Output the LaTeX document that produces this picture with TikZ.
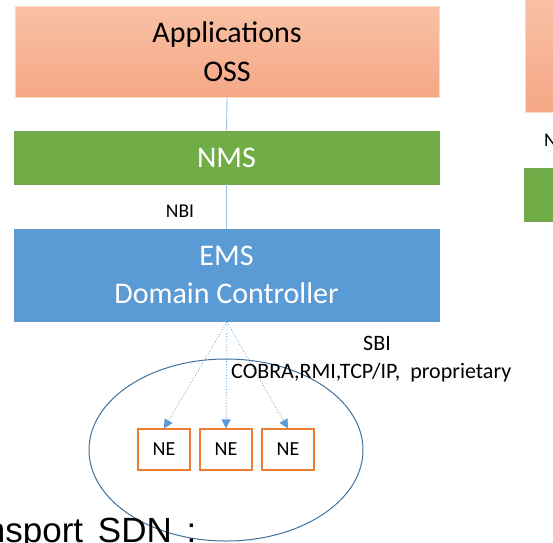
\documentclass[tikz,border=0pt]{standalone}
\usepackage{fontspec}
\setmainfont{Carlito}
\newfontfamily\arialfont{Liberation Sans}
\usetikzlibrary{arrows.meta}
\definecolor{ossTop}{HTML}{F8C1A6}
\definecolor{ossBot}{HTML}{F5A785}
\definecolor{nmsGreen}{HTML}{70AD47}
\definecolor{emsBlue}{HTML}{5B9BD5}
\definecolor{neOrange}{HTML}{ED7D31}
\definecolor{linkBlue}{HTML}{9DC3E6}
\definecolor{ringBlue}{HTML}{41719C}
\begin{document}
\begin{tikzpicture}[x=1pt,y=-1pt,
  layer/.style={draw=none,minimum height=#1,inner sep=0pt,align=center,font=\fontsize{30}{38.5}\selectfont},
  ossbox/.style={layer=91pt,top color=ossTop,bottom color=ossBot,draw=ossTop!60!white,line width=0.8pt},
  nmsbox/.style={layer=53pt,fill=nmsGreen,draw=nmsGreen!80!gray,text=white,line width=0.6pt},
  emsbox/.style={layer=92pt,fill=emsBlue,draw=emsBlue!85!gray,text=white,line width=0.6pt},
  nebox/.style={draw=neOrange,line width=1.2pt,fill=white,minimum width=52pt,minimum height=41pt,inner sep=0pt,font=\fontsize{20}{24}\selectfont},
  link/.style={draw=linkBlue,line width=0.9pt},
  sbilink/.style={draw=emsBlue,line width=0.8pt,dotted,-{Triangle[length=9pt,width=9pt]}},
  lbl/.style={inner sep=0pt,font=\fontsize{22}{26}\selectfont},
  small/.style={inner sep=0pt,font=\fontsize{19.5}{23}\selectfont}]
\useasboundingbox (0,0) rectangle (553,542);
\begin{scope}
\clip (0,0) rectangle (553,542);

% main stack
\node[ossbox,minimum width=424pt] (oss) at (227,51.5) {Applications\\OSS};
\node[nmsbox,minimum width=425pt] (nms) at (226.5,157.5) {NMS};
\node[emsbox,minimum width=425pt] (ems) at (226.5,275) {EMS\\Domain Controller};

\draw[link] (oss.south) -- (nms.north);
\draw[link] (nms.south) -- (ems.north);
\node[small] (nbi) at (180,211) {NBI};

% second stack, partly visible at the right edge
\node[ossbox,minimum width=60pt,minimum height=116pt,anchor=north west] (oss2) at (525,-4) {};
\node[nmsbox,minimum width=60pt,minimum height=53pt,anchor=north west] (nms2) at (524,168) {};
\node[small,anchor=west] (nbi2) at (544,140) {N};

% network domain
\draw[ringBlue,line width=1pt] (226,450) ellipse [x radius=137,y radius=91];
\node[nebox] (ne1) at (164,449.5) {NE};
\node[nebox] (ne2) at (226,449.5) {NE};
\node[nebox] (ne3) at (288,449.5) {NE};

\coordinate (sbiorigin) at (227,322);
\draw[sbilink] (sbiorigin) -- (ne1.north);
\draw[sbilink] (sbiorigin) -- (ne2.north);
\draw[sbilink] (sbiorigin) -- (ne3.north);

\node[lbl] (sbi) at (377,343) {SBI};
\node[lbl,anchor=west] (proto) at (231,373) {COBRA,RMI,TCP/IP,\ \ proprietary};

% slide caption cut at the edges
\node[anchor=base east,inner sep=0pt,font=\arialfont\fontsize{35}{40}\selectfont] (caption) at (196.5,542) {Transport\hspace{5pt} SDN\hspace{5pt} :};
\end{scope}
\end{tikzpicture}
\end{document}
